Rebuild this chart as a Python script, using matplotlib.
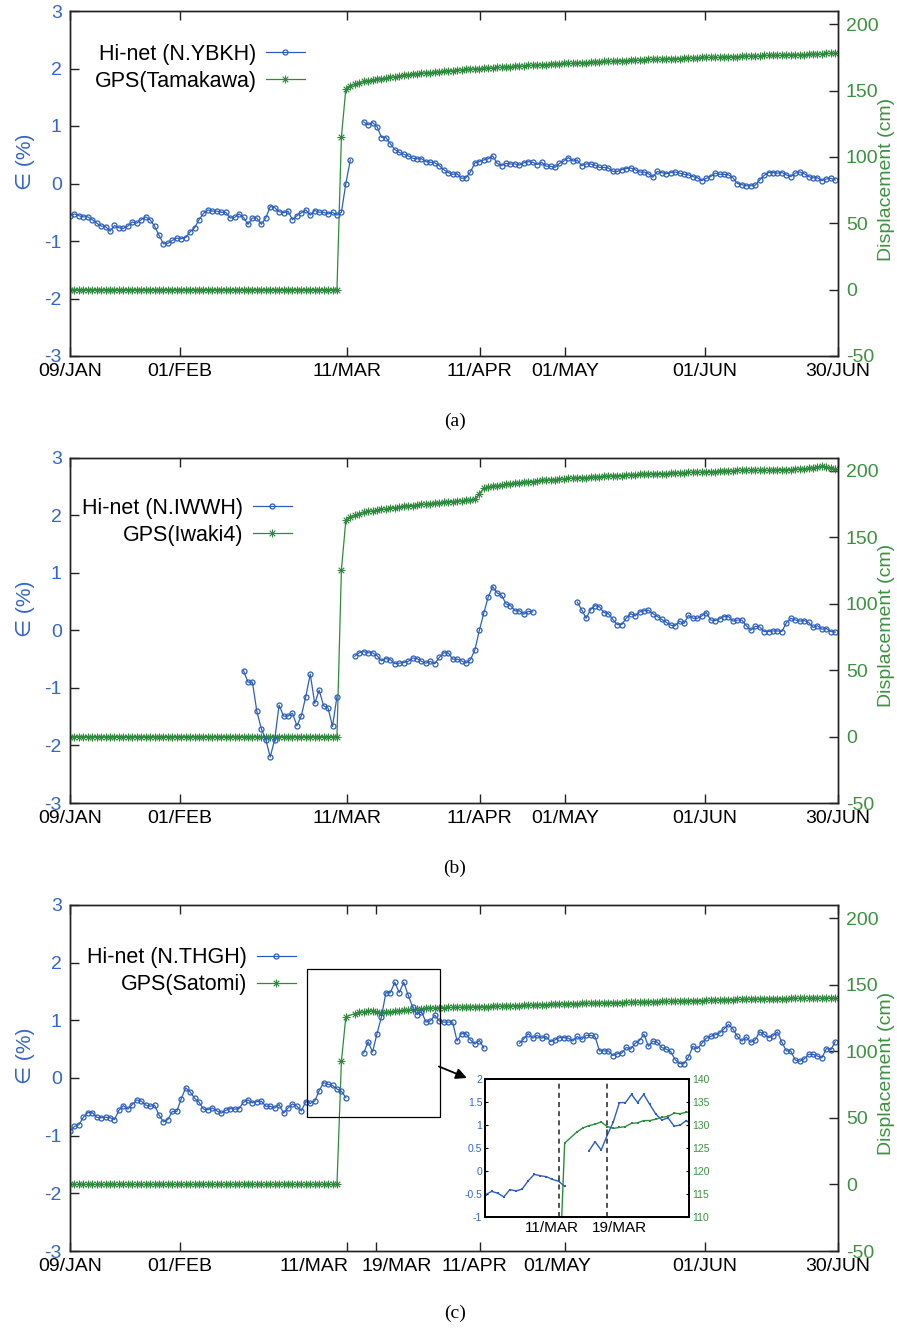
import numpy as np
import matplotlib
matplotlib.use('Agg')
import matplotlib.pyplot as plt
from matplotlib.patches import Rectangle
from matplotlib.transforms import ScaledTranslation

plt.rcParams['font.family'] = ['Liberation Sans', 'DejaVu Sans']
plt.rcParams['axes.unicode_minus'] = False

# day index 0 = 09/JAN ... 172 = 30/JUN (11/MAR ~ 61)
N_DAYS = 173
tick_days = [0, 24.7, 62.2, 92.1, 111.2, 142.7, 172.5]
tick_labels = ['09/JAN', '01/FEB', '11/MAR', '11/APR', '01/MAY', '01/JUN', '30/JUN']
tick_days_c = [0, 24.7, 62.2, 68.8, 92.1, 111.2, 142.7, 172.5]
tick_labels_c = ['09/JAN', '01/FEB', '11/MAR', '19/MAR', '11/APR', '01/MAY', '01/JUN', '30/JUN']
inset_days = [61, 69]
inset_labels = ['11/MAR', '19/MAR']

# ---- Hi-net strain (%) ----
hinet_a_1 = [-0.56, -0.53, -0.56, -0.58, -0.58, -0.63, -0.69, -0.74, -0.75, -0.83,
             -0.73, -0.77, -0.78, -0.74, -0.67, -0.69, -0.63, -0.58, -0.63, -0.74,
             -0.90, -1.05, -1.04, -0.99, -0.95, -0.96, -0.94, -0.84, -0.77, -0.63,
             -0.52, -0.46, -0.48, -0.48, -0.50, -0.50, -0.60, -0.59, -0.53, -0.59,
             -0.71, -0.60, -0.60, -0.71, -0.60, -0.40, -0.42, -0.49, -0.51, -0.48,
             -0.63, -0.56, -0.51, -0.46, -0.55, -0.47, -0.50, -0.50, -0.53, -0.50,
             -0.55, -0.50, 0.00, 0.41]
hinet_a_2 = [1.07, 1.02, 1.06, 0.99, 0.80, 0.80, 0.69, 0.59, 0.54, 0.51,
             0.48, 0.44, 0.43, 0.43, 0.38, 0.37, 0.36, 0.31, 0.24, 0.19,
             0.16, 0.17, 0.09, 0.10, 0.20, 0.36, 0.38, 0.41, 0.43, 0.48,
             0.35, 0.31, 0.35, 0.34, 0.34, 0.32, 0.36, 0.38, 0.37, 0.33,
             0.37, 0.30, 0.30, 0.28, 0.35, 0.39, 0.45, 0.39, 0.41, 0.31,
             0.34, 0.34, 0.32, 0.28, 0.28, 0.27, 0.21, 0.21, 0.24, 0.26,
             0.27, 0.24, 0.20, 0.20, 0.17, 0.11, 0.21, 0.19, 0.17, 0.19,
             0.20, 0.18, 0.16, 0.15, 0.12, 0.10, 0.05, 0.09, 0.12, 0.18,
             0.16, 0.16, 0.15, 0.10, 0.00, -0.02, -0.04, -0.04, -0.03, 0.06,
             0.14, 0.19, 0.19, 0.18, 0.19, 0.15, 0.12, 0.18, 0.20, 0.17,
             0.12, 0.10, 0.10, 0.05, 0.08, 0.09, 0.06]

hinet_b_1 = [-0.70, -0.90, -0.90, -1.41, -1.71, -1.90, -2.20, -1.90, -1.30, -1.49,
             -1.49, -1.44, -1.66, -1.48, -1.15, -0.76, -1.27, -1.04, -1.31, -1.35,
             -1.67, -1.15]
hinet_b_2 = [-0.45, -0.39, -0.37, -0.39, -0.39, -0.44, -0.53, -0.49, -0.51, -0.58,
             -0.57, -0.56, -0.54, -0.48, -0.49, -0.54, -0.57, -0.54, -0.58, -0.47,
             -0.39, -0.39, -0.50, -0.50, -0.53, -0.57, -0.51, -0.34, 0.00, 0.30,
             0.58, 0.76, 0.65, 0.61, 0.46, 0.43, 0.34, 0.34, 0.28, 0.33,
             0.32]
hinet_b_3 = [0.49, 0.36, 0.21, 0.36, 0.43, 0.41, 0.31, 0.29, 0.19, 0.10,
             0.10, 0.21, 0.29, 0.25, 0.32, 0.34, 0.35, 0.29, 0.24, 0.19,
             0.14, 0.09, 0.08, 0.16, 0.12, 0.26, 0.21, 0.21, 0.25, 0.31,
             0.18, 0.17, 0.20, 0.24, 0.24, 0.16, 0.18, 0.18, 0.08, 0.00,
             0.07, 0.06, -0.02, -0.02, -0.01, -0.01, -0.02, 0.13, 0.21, 0.18,
             0.16, 0.17, 0.14, 0.05, 0.08, 0.02, 0.03, -0.02, -0.03]

hinet_c_1 = [-0.92, -0.84, -0.81, -0.68, -0.60, -0.60, -0.68, -0.69, -0.68, -0.69,
             -0.72, -0.56, -0.48, -0.54, -0.46, -0.38, -0.40, -0.47, -0.49, -0.47,
             -0.64, -0.76, -0.72, -0.58, -0.58, -0.36, -0.17, -0.24, -0.35, -0.42,
             -0.54, -0.55, -0.52, -0.57, -0.61, -0.56, -0.53, -0.54, -0.53, -0.42,
             -0.38, -0.43, -0.41, -0.40, -0.49, -0.49, -0.52, -0.46, -0.61, -0.52,
             -0.45, -0.49, -0.57, -0.41, -0.44, -0.40, -0.22, -0.08, -0.11, -0.13,
             -0.19, -0.23, -0.34]
hinet_c_2 = [0.43, 0.63, 0.45, 0.77, 1.06, 1.48, 1.48, 1.66, 1.48, 1.66,
             1.44, 1.23, 1.10, 1.15, 0.97, 0.99, 1.09, 0.99, 0.97, 0.97,
             0.97, 0.64, 0.77, 0.77, 0.66, 0.59, 0.65, 0.52]
hinet_c_3 = [0.60, 0.68, 0.77, 0.69, 0.74, 0.69, 0.72, 0.63, 0.66, 0.70,
             0.70, 0.69, 0.64, 0.72, 0.67, 0.74, 0.74, 0.72, 0.47, 0.47,
             0.47, 0.39, 0.42, 0.43, 0.53, 0.50, 0.60, 0.65, 0.76, 0.55,
             0.64, 0.62, 0.53, 0.50, 0.46, 0.32, 0.25, 0.25, 0.36, 0.55,
             0.51, 0.60, 0.69, 0.72, 0.75, 0.78, 0.85, 0.93, 0.85, 0.72,
             0.64, 0.71, 0.62, 0.66, 0.80, 0.76, 0.70, 0.73, 0.80, 0.62,
             0.47, 0.47, 0.31, 0.29, 0.33, 0.41, 0.41, 0.38, 0.35, 0.51,
             0.49, 0.63]

# ---- GPS displacement (cm) ----
gps_before_quake = [0, 0, 0, 0, 0, 0, 0, 0, 0, 0, 0, 0, 0, 0, 0, 0, 0, 0, 0, 0,
                    0, 0, 0, 0, 0, 0, 0, 0, 0, 0, 0, 0, 0, 0, 0, 0, 0, 0, 0, 0,
                    0, 0, 0, 0, 0, 0, 0, 0, 0, 0, 0, 0, 0, 0, 0, 0, 0, 0, 0, 0, 0]
gps_a_after = [115.0,
               151.5, 153.5, 155, 156, 157, 157.5, 158, 158.5, 159, 159.5,
               160, 160.5, 161, 161.5, 162, 162.5, 162.5, 163, 163.5, 163.5,
               164, 164, 164.5, 165, 165, 165.5, 165.5, 166, 166, 166.5,
               166.5, 167, 167, 167, 167.5, 167.5, 168, 168, 168.5, 168.5,
               168.5, 169, 169, 169, 169.5, 169.5, 170, 170, 170, 170.5,
               170.5, 170.5, 171, 171, 171, 171.5, 171.5, 171.5, 172, 172,
               172, 172.5, 172.5, 172.5, 173, 173, 173, 173, 173.5, 173.5,
               173.5, 173.5, 174, 174, 174, 174, 174.5, 174.5, 174.5, 174.5,
               175, 175, 175, 175, 175, 175.5, 175.5, 175.5, 175.5, 176,
               176, 176, 176, 176, 176.5, 176.5, 176.5, 176.5, 176.5, 177,
               177, 177, 177, 177, 177.5, 177.5, 177.5, 177.5, 178, 178, 178]
gps_b_after = [125.5,
               163, 165, 166.5, 167.5, 169, 169.5, 170, 170.5, 171, 171.5,
               172, 172.5, 173, 173.5, 174, 174, 174.5, 175, 175, 175.5,
               176, 176, 176.5, 177, 177, 177.5, 177.5, 178, 178, 179,
               183, 187, 188, 188.5, 189, 189.5, 190, 190.5, 191, 191,
               191.5, 192, 192, 192.5, 193, 193, 193.5, 193.5, 194, 194,
               194.5, 194.5, 195, 195, 195, 195.5, 195.5, 195.5, 196, 196,
               196.5, 196.5, 196.5, 197, 197, 197, 197.5, 197.5, 197.5, 198,
               198, 198, 198, 198.5, 198.5, 198.5, 198.5, 199, 199, 199,
               199, 199.5, 199.5, 199.5, 200, 200, 200, 200, 200.5, 200.5,
               200.5, 200.5, 200.5, 200.5, 200.5, 200.5, 200.5, 201, 201, 201,
               201, 201.5, 201.5, 201.5, 202, 202.5, 203, 203.5, 203, 202, 201.5]
gps_c_jump = [92.5, 126.0]
gps_c_after = [128.4, 129.3, 129.8, 130.1, 130.6, 129.6, 129.2, 129.4, 129.6, 130.3,
               130.4, 130.9, 130.9, 131.2, 131.6, 131.8, 132.5, 132.4, 132.7,
               132.8, 132.9, 133, 133, 133.1, 133.2, 133.3, 133.4, 133.5, 133.5,
               133.6, 133.7, 133.8, 133.9, 134, 134, 134.1, 134.3, 134.4, 134.5,
               134.6, 134.8, 134.9, 135, 135.1, 135.3, 135.4, 135.5, 135.6, 135.7,
               135.8, 135.9, 136, 136.1, 136.2, 136.2, 136.3, 136.4, 136.5, 136.6,
               136.6, 136.7, 136.8, 136.9, 136.9, 137, 137.1, 137.2, 137.3, 137.4,
               137.5, 137.5, 137.6, 137.7, 137.8, 137.9, 138, 138.1, 138.2, 138.2,
               138.3, 138.4, 138.5, 138.6, 138.7, 138.8, 138.9, 139, 139.1, 139.2,
               139.3, 139.3, 139.4, 139.5, 139.5, 139.6, 139.6, 139.7, 139.7, 139.8,
               139.8, 139.8, 139.9, 139.9, 140, 140, 140, 140.1, 140.1, 140.1]


def build(segments):
    arr = np.full(N_DAYS, np.nan)
    for start, vals in segments:
        arr[start:start + len(vals)] = vals
    return arr


days = np.arange(N_DAYS)
hinet_a = build([(0, hinet_a_1), (66, hinet_a_2)])
hinet_b = build([(39, hinet_b_1), (64, hinet_b_2), (114, hinet_b_3)])
hinet_c = build([(0, hinet_c_1), (66, hinet_c_2), (101, hinet_c_3)])
gps_a = build([(0, gps_before_quake), (61, gps_a_after)])
gps_b = build([(0, gps_before_quake), (61, gps_b_after)])
gps_c = build([(0, gps_before_quake), (61, gps_c_jump), (64, gps_c_after)])

BLUE = '#2b5fbe'
BLUE_T = '#3566c4'
GREEN = '#2e8b3d'
GREEN_T = '#3c9140'
SPINE = '#222222'

fig = plt.figure(figsize=(8.97, 13.28), dpi=100)
L, W = 70 / 897, 767.5 / 897


def shift_labels(labels, shifts):
    for lbl, dx in zip(labels, shifts):
        lbl.set_transform(lbl.get_transform() + ScaledTranslation(dx / 100, 0, fig.dpi_scale_trans))


def panel(rect, hinet, gps, hname, gname, anchor, ticks, labels):
    ax = fig.add_axes(rect)
    ax2 = ax.twinx()
    ax.set_zorder(ax2.get_zorder() + 1)
    ax.patch.set_visible(False)

    h1, = ax.plot(days, hinet, color=BLUE, lw=0.9, marker='o', ms=3.6,
                  mfc='none', mew=0.9)
    ok = ~np.isnan(gps)
    h2, = ax2.plot(days[ok], gps[ok], color=GREEN, lw=0.9, marker=(8, 2, 0),
                   ms=5.5, mew=0.6)

    ax.set_xlim(0, 172.5)
    ax.set_ylim(-3, 3)
    ax2.set_ylim(-50, 210)
    ax.set_xticks(ticks)
    ax.set_xticklabels(labels)
    ax.set_yticks(range(-3, 4))
    ax2.set_yticks(range(-50, 201, 50))
    ax.tick_params(axis='x', direction='in', length=6.3, width=1, top=True,
                   labelsize=14, pad=5, color=SPINE)
    ax.tick_params(axis='y', direction='in', length=6.3, width=1,
                   labelsize=14, labelcolor=BLUE_T, pad=6, color=SPINE)
    ax2.tick_params(axis='y', direction='in', length=6.3, width=1,
                    labelsize=14, labelcolor=GREEN_T, pad=6, color=SPINE)
    for a in (ax, ax2):
        for s in a.spines.values():
            s.set_color(SPINE)
            s.set_linewidth(1)

    ax.set_ylabel('∈ (%)', color=BLUE_T, fontsize=15)
    ax.yaxis.set_label_coords(-0.046, 0.563)
    ax2.set_ylabel('Displacement (cm)', color=GREEN_T, fontsize=14)
    ax2.yaxis.set_label_coords(1.053, 0.513)

    ax.legend([h1, h2], [hname, gname], loc='upper right', bbox_to_anchor=anchor,
              frameon=False, markerfirst=False, fontsize=15.5, handlelength=1.8,
              handletextpad=0.45, labelspacing=0.29, borderpad=0, borderaxespad=0,
              numpoints=1)
    return ax, ax2


panel([L, 1 - 356 / 1328, W, 345 / 1328], hinet_a, gps_a,
      'Hi-net (N.YBKH)', 'GPS(Tamakawa)', (0.306, 0.905), tick_days, tick_labels)
panel([L, 1 - 803 / 1328, W, 345.3 / 1328], hinet_b, gps_b,
      'Hi-net (N.IWWH)', 'GPS(Iwaki4)', (0.289, 0.884), tick_days, tick_labels)
ax_c, ax_c2 = panel([L, 1 - 1251 / 1328, W, 346 / 1328], hinet_c, gps_c,
                    'Hi-net (N.THGH)', 'GPS(Satomi)', (0.294, 0.878),
                    tick_days_c, tick_labels_c)

# crowded labels in (c) are nudged sideways
shift_labels(ax_c.get_xticklabels(), [0, 0, -33, 21, -5, -8, 0, 0])

# zoom box and arrow
ax_c.add_patch(Rectangle((53.3, -0.676), 83.2 - 53.3, 1.885 + 0.676,
                         fill=False, lw=0.9, edgecolor='black', zorder=5))
ax_c.annotate('', xy=(89.2, 0.0), xytext=(82.9, 0.2),
              arrowprops=dict(arrowstyle='-|>', color='black', lw=1.3,
                              mutation_scale=16, shrinkA=0, shrinkB=0))

# inset
ax_in = fig.add_axes([485 / 897, 1 - 1216.7 / 1328, 204.3 / 897, 138 / 1328])
ax_in2 = ax_in.twinx()
ax_in2.set_zorder(11)
ax_in.set_zorder(12)
ax_in.patch.set_visible(False)
ax_in2.patch.set_visible(True)
ax_in2.patch.set_facecolor('white')

ax_in.plot(days, hinet_c, color=BLUE, lw=1, marker='s', ms=2, mew=0)
ok_c = ~np.isnan(gps_c)
ax_in2.plot(days[ok_c], gps_c[ok_c], color=GREEN, lw=1, marker='s', ms=2, mew=0)
for d in inset_days:
    ax_in.axvline(d, color='#333333', lw=1.2, ls=(0, (3, 2.5)))
ax_in.set_xlim(48.9, 82.5)
ax_in.set_ylim(-1, 2)
ax_in2.set_ylim(110, 140)
ax_in.set_xticks(inset_days)
ax_in.set_xticklabels(inset_labels)
ax_in.set_yticks([-1, -0.5, 0, 0.5, 1, 1.5, 2])
ax_in.set_yticklabels(['-1', '-0.5', '0', '0.5', '1', '1.5', '2'])
ax_in2.set_yticks(range(110, 141, 5))
ax_in.tick_params(axis='x', length=0, labelsize=11, pad=3)
ax_in.tick_params(axis='y', direction='in', length=2.5, labelsize=7.5,
                  labelcolor=BLUE_T, pad=2)
ax_in2.tick_params(axis='y', direction='in', length=2.5, labelsize=7.5,
                   labelcolor=GREEN_T, pad=2)
shift_labels(ax_in.get_xticklabels(), [-7, 12])
for a in (ax_in, ax_in2):
    for s in a.spines.values():
        s.set_color('black')
        s.set_linewidth(1.3)

for y, t in [(421, '(a)'), (868, '(b)'), (1313, '(c)')]:
    fig.text(0.507, 1 - y / 1328, t, fontsize=14, family='Liberation Serif',
             ha='center', va='center')

fig.savefig('out.png', dpi=100)
